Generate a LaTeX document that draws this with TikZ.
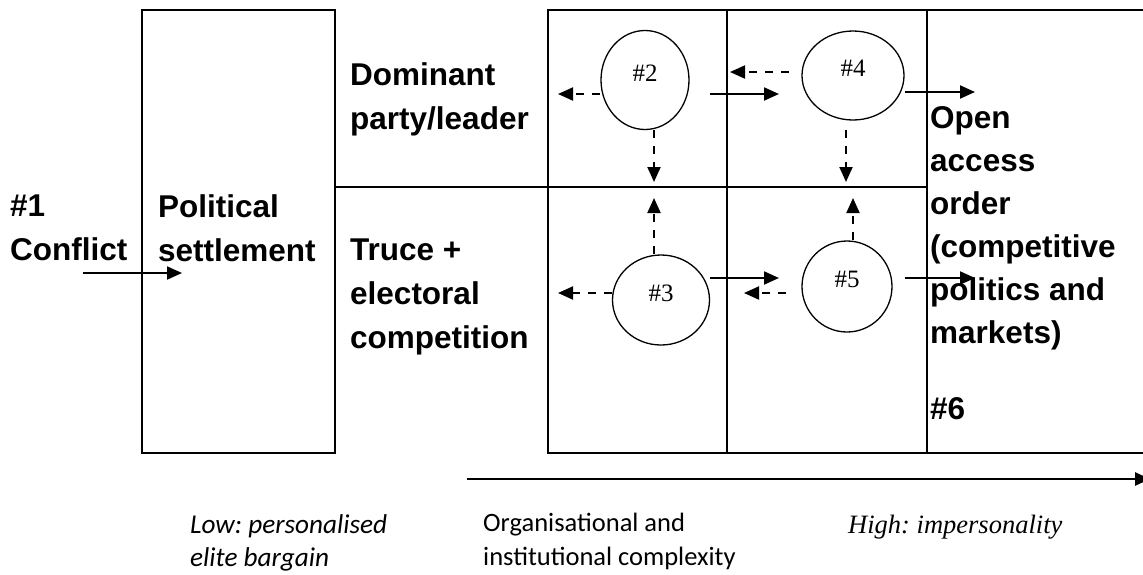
\documentclass[tikz,border=0pt]{standalone}
\usepackage{fontspec}
\setmainfont{Liberation Sans}
\newfontfamily\calibri{Carlito}
\newfontfamily\cambria{Liberation Serif}
\usetikzlibrary{arrows.meta}
\usetikzlibrary{shapes.geometric}
\usetikzlibrary{positioning}
\frenchspacing

\begin{document}
\begin{tikzpicture}
    [
    x=1pt,y=-1pt,
    box/.style={draw,line width=2pt},
    lbl/.style={anchor=base west,align=left,inner sep=0pt,font=\fontsize{31.5}{44}\selectfont\bfseries},
    state/.style={draw,ellipse,line width=1.3pt,inner sep=0pt,text depth=14pt,font=\cambria\fontsize{25}{25}\selectfont},
    arr/.style={line width=2pt,-{Triangle[length=15pt,width=13pt]}},
    dasharr/.style={arr,dash pattern=on 8pt off 8pt},
    note/.style={anchor=base west,align=left,inner sep=0pt,font=\calibri\fontsize{26.5}{34}\selectfont}
    ]
    \useasboundingbox (0,0) rectangle (1143,574);

    % frames
    \draw [box] (142,10) rectangle (335,453);
    \draw [box] (1150,10) -- (548,10) -- (548,453) -- (1150,453);
    \draw [box] (727,10) -- (727,453);
    \draw [box] (927,10) -- (927,453);
    \draw [box] (335,187) -- (927,187);

    % base = last line
    \node (conflict) at (10,260) [lbl] {\#1\\Conflict};
    \node (settle) at (158,261) [lbl] {Political\\settlement};
    \node (dominant) at (350,129) [lbl] {Dominant\\party/leader};
    \node (truce) at (350,348) [lbl] {Truce +\\electoral\\competition};
    \node (open) at (930,343) [lbl,font=\fontsize{31.5}{43}\selectfont\bfseries] {Open\\access\\order\\(competitive\\politics and\\markets)};
    \node (six) at (930,419) [lbl] {\#6};

    \node (s2) at (645,80) [state,minimum width=88pt,minimum height=99pt] {\#2};
    \node (s4) at (853,75.5) [state,minimum width=102pt,minimum height=89pt] {\#4};
    \node (s3) at (661,300) [state,minimum width=97pt,minimum height=90pt] {\#3};
    \node (s5) at (847,286.5) [state,minimum width=90pt,minimum height=91pt] {\#5};

    \coordinate (cin) at (83,273);
    \coordinate (cout) at (182,273);
    \draw [arr] (cin) to (cout);

    \coordinate (t2l) at (558,94);
    \coordinate (t2d) at (654,182);
    \coordinate (f2r) at (710,94);
    \coordinate (t2r) at (779,94);
    \draw [dasharr] (s2.west |- t2l) to (t2l);
    \draw [dasharr] (t2d |- s2.south) to (t2d);
    \draw [arr] (f2r) to (t2r);

    \coordinate (t4l) at (730,72);
    \coordinate (t4d) at (846,182);
    \coordinate (t4r) at (975,92);
    \draw [dasharr] ([xshift=-12pt]s4.west |- t4l) to (t4l);
    \draw [dasharr] ([yshift=-9pt]s4.south -| t4d) to (t4d);
    \draw [arr] (s4.east |- t4r) to (t4r);

    \coordinate (t3u) at (654,198);
    \coordinate (t3l) at (558,293);
    \coordinate (t3r) at (779,278);
    \draw [dasharr] (t3u |- s3.north) to (t3u);
    \draw [dasharr] (s3.west |- t3l) to (t3l);
    \draw [arr] (s3.east |- t3r) to (t3r);

    \coordinate (t5u) at (853,198);
    \coordinate (t5l) at (744,293);
    \coordinate (t5r) at (975,278);
    \draw [dasharr] (t5u |- s5.north) to (t5u);
    \draw [dasharr] ([xshift=-15pt]s5.west |- t5l) to (t5l);
    \draw [arr] ([xshift=12pt]s5.east |- t5r) to (t5r);

    \coordinate (ax0) at (467,479);
    \coordinate (ax1) at (1150,479);
    \draw [arr,line width=2.6pt] (ax0) to (ax1);

    \node (low) at (190,566) [note,font=\calibri\itshape\fontsize{27.2}{33}\selectfont] {Low: personalised\\elite bargain};
    \node (complex) at (483,565) [note] {Organisational and\\institutional complexity};
    \node (high) at (848,533) [note,font=\cambria\itshape\fontsize{26.5}{33}\selectfont] {High: impersonality};
  \end{tikzpicture}
\end{document}
